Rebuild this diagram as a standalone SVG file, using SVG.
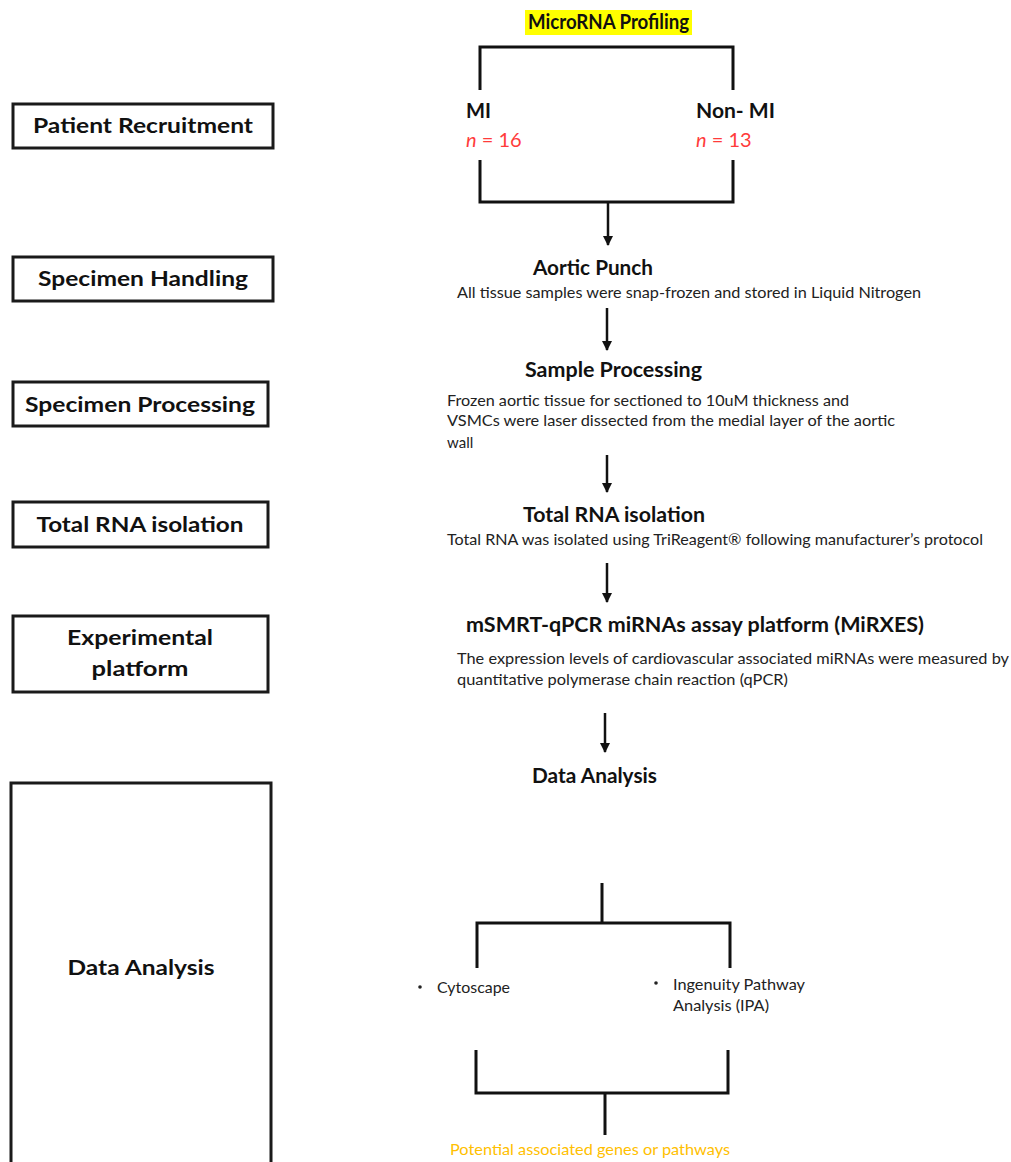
<svg xmlns="http://www.w3.org/2000/svg" width="1011" height="1162" viewBox="0 0 1011 1162">
<style>
.box{fill:#fff;stroke:#1a1a1a;stroke-width:3}
.lbl{font-family:Lato,"Open Sans",sans-serif;font-weight:bold;font-size:21px;fill:#111;text-anchor:middle}
.hd{font-family:Lato,"Open Sans",sans-serif;font-weight:bold;font-size:20px;fill:#111}
.bd{font-family:Lato,"Open Sans",sans-serif;font-size:15px;fill:#222}
.red{font-family:Lato,"Open Sans",sans-serif;font-size:20px;fill:#ff3b3b}
.ln{fill:none;stroke:#111;stroke-width:3}
.ar{fill:none;stroke:#111;stroke-width:2.5}
</style>
<defs>
<marker id="ah" viewBox="0 0 10 10" refX="9" refY="5" markerWidth="4" markerHeight="4" markerUnits="strokeWidth" orient="auto">
<path d="M0,0 L10,5 L0,10 z" fill="#111"/>
</marker>
</defs>
<rect width="1011" height="1162" fill="#fff"/>

<g id="patient-recruitment"><rect class="box" x="13" y="104" width="260" height="44"/><text class="lbl" x="143" y="133" textLength="220" lengthAdjust="spacingAndGlyphs">Patient Recruitment</text></g>
<g id="specimen-handling"><rect class="box" x="13" y="257" width="260" height="44"/><text class="lbl" x="143" y="286" textLength="210" lengthAdjust="spacingAndGlyphs">Specimen Handling</text></g>
<g id="specimen-processing"><rect class="box" x="13" y="382" width="255" height="44"/><text class="lbl" x="140" y="412" textLength="230" lengthAdjust="spacingAndGlyphs">Specimen Processing</text></g>
<g id="total-rna-left"><rect class="box" x="13" y="502" width="255" height="45"/><text class="lbl" x="140" y="532" textLength="207" lengthAdjust="spacingAndGlyphs">Total RNA isolation</text></g>
<g id="experimental-platform"><rect class="box" x="13" y="616" width="255" height="76"/><text class="lbl" x="140" y="645" textLength="146" lengthAdjust="spacingAndGlyphs">Experimental</text><text class="lbl" x="140" y="676" textLength="97" lengthAdjust="spacingAndGlyphs">platform</text></g>
<g id="data-analysis-left"><rect class="box" x="11" y="783" width="260" height="400"/><text class="lbl" x="141" y="975" textLength="147" lengthAdjust="spacingAndGlyphs">Data Analysis</text></g>

<g id="microrna-profiling"><rect x="525" y="10" width="167" height="25" fill="#ffff00"/><text class="hd" x="528" y="29" font-size="17" textLength="161" lengthAdjust="spacingAndGlyphs">MicroRNA Profiling</text></g>
<g id="mi"><text class="hd" x="466" y="118" textLength="25" lengthAdjust="spacingAndGlyphs">MI</text><text class="red" x="466" y="147"><tspan font-style="italic">n</tspan> = 16</text></g>
<g id="non-mi"><text class="hd" x="696" y="118" textLength="79" lengthAdjust="spacingAndGlyphs">Non- MI</text><text class="red" x="696" y="147"><tspan font-style="italic">n</tspan> = 13</text></g>
<g id="aortic-punch"><text class="hd" x="533" y="275" textLength="120" lengthAdjust="spacingAndGlyphs">Aortic Punch</text><text class="bd" x="457" y="298" textLength="464" lengthAdjust="spacingAndGlyphs">All tissue samples were snap-frozen and stored in Liquid Nitrogen</text></g>
<g id="sample-processing"><text class="hd" x="525" y="377" textLength="177" lengthAdjust="spacingAndGlyphs">Sample Processing</text><text class="bd" x="447" y="406" textLength="402" lengthAdjust="spacingAndGlyphs">Frozen aortic tissue for sectioned to 10uM thickness and</text><text class="bd" x="447" y="426" textLength="448" lengthAdjust="spacingAndGlyphs">VSMCs were laser dissected from the medial layer of the aortic</text><text class="bd" x="447" y="448">wall</text></g>
<g id="total-rna-isolation"><text class="hd" x="523" y="522" textLength="182" lengthAdjust="spacingAndGlyphs">Total RNA isolation</text><text class="bd" x="447" y="545" textLength="536" lengthAdjust="spacingAndGlyphs">Total RNA was isolated using TriReagent® following manufacturer’s protocol</text></g>
<g id="msmrt"><text class="hd" x="466" y="632" textLength="458" lengthAdjust="spacingAndGlyphs">mSMRT-qPCR miRNAs assay platform (MiRXES)</text><text class="bd" x="457" y="664" textLength="552" lengthAdjust="spacingAndGlyphs">The expression levels of cardiovascular associated miRNAs were measured by</text><text class="bd" x="457" y="685" textLength="331" lengthAdjust="spacingAndGlyphs">quantitative polymerase chain reaction (qPCR)</text></g>
<g id="data-analysis"><text class="hd" x="532" y="783" textLength="125" lengthAdjust="spacingAndGlyphs">Data Analysis</text></g>
<g id="cytoscape"><circle cx="420" cy="987" r="1.8" fill="#222"/><text class="bd" x="437" y="993" textLength="73" lengthAdjust="spacingAndGlyphs">Cytoscape</text></g>
<g id="ipa"><circle cx="656" cy="983" r="1.8" fill="#222"/><text class="bd" x="673" y="990" textLength="132" lengthAdjust="spacingAndGlyphs">Ingenuity Pathway</text><text class="bd" x="673" y="1011" textLength="96" lengthAdjust="spacingAndGlyphs">Analysis (IPA)</text></g>
<g id="potential"><text class="bd" x="450" y="1155" style="fill:#ffc000" textLength="280" lengthAdjust="spacingAndGlyphs">Potential associated genes or pathways</text></g>

<g id="connectors">
<path class="ln" d="M480,90 V47 H733 V90"/>
<path class="ln" d="M480,160 V202 H733 V160"/>
<line class="ar" x1="608" y1="202" x2="608" y2="245" marker-end="url(#ah)"/>
<line class="ar" x1="607" y1="308" x2="607" y2="350" marker-end="url(#ah)"/>
<line class="ar" x1="607" y1="455" x2="607" y2="492" marker-end="url(#ah)"/>
<line class="ar" x1="607" y1="563" x2="607" y2="602" marker-end="url(#ah)"/>
<line class="ar" x1="605" y1="713" x2="605" y2="752" marker-end="url(#ah)"/>
<line class="ln" x1="602" y1="883" x2="602" y2="923"/>
<path class="ln" d="M477,968 V923 H730 V968"/>
<path class="ln" d="M476,1050 V1093 H728 V1050"/>
<line class="ln" x1="605" y1="1093" x2="605" y2="1135"/>
</g>
</svg>
